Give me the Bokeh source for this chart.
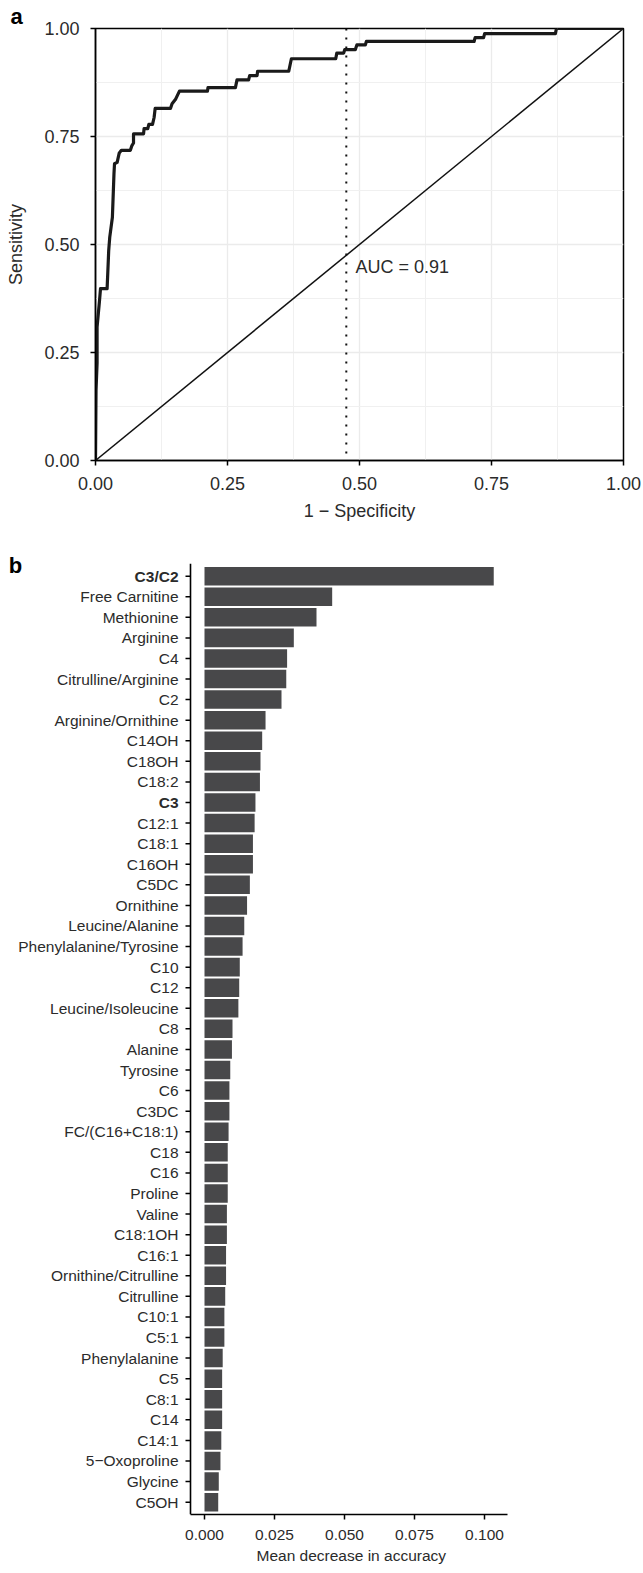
from bokeh.plotting import figure
from bokeh.models import Range1d, FixedTicker, Label, Span, Title
from bokeh.embed import file_html
from bokeh.resources import INLINE
from bokeh.core.properties import value

# ---------------- data: panel a (ROC) ----------------
roc_fpr = [0.0, 0.001, 0.003, 0.003, 0.0076, 0.0095, 0.022, 0.024, 0.025, 0.027,
           0.032, 0.035, 0.036, 0.041, 0.045, 0.049, 0.066, 0.069, 0.072, 0.072,
           0.091, 0.092, 0.099, 0.101, 0.108, 0.111, 0.113, 0.142, 0.145, 0.152,
           0.159, 0.212, 0.213, 0.265, 0.268, 0.290, 0.292, 0.306, 0.307, 0.366,
           0.371, 0.455, 0.457, 0.470, 0.472, 0.492, 0.495, 0.511, 0.513, 0.717,
           0.719, 0.735, 0.737, 0.871, 0.873, 1.0]
roc_tpr = [0.0, 0.162, 0.225, 0.309, 0.370, 0.398, 0.398, 0.456, 0.486, 0.517,
           0.563, 0.664, 0.687, 0.690, 0.712, 0.718, 0.718, 0.729, 0.735, 0.756,
           0.756, 0.768, 0.768, 0.778, 0.778, 0.794, 0.815, 0.815, 0.826, 0.837,
           0.855, 0.855, 0.863, 0.863, 0.881, 0.881, 0.891, 0.891, 0.901, 0.901,
           0.930, 0.930, 0.943, 0.943, 0.951, 0.951, 0.962, 0.962, 0.970, 0.970,
           0.979, 0.979, 0.988, 0.988, 1.0, 1.0]
chance_x = [0.0, 1.0]
chance_y = [0.0, 1.0]
threshold_fpr = 0.475
auc_text = "AUC = 0.91"
roc_ticks = [0.0, 0.25, 0.5, 0.75, 1.0]
roc_minor = [0.125, 0.375, 0.625, 0.875]
roc_tick_labels = ["0.00", "0.25", "0.50", "0.75", "1.00"]

# ---------------- data: panel b (importance) ----------------
features = ["C3/C2", "Free Carnitine", "Methionine", "Arginine", "C4",
            "Citrulline/Arginine", "C2", "Arginine/Ornithine", "C14OH", "C18OH",
            "C18:2", "C3", "C12:1", "C18:1", "C16OH", "C5DC", "Ornithine",
            "Leucine/Alanine", "Phenylalanine/Tyrosine", "C10", "C12",
            "Leucine/Isoleucine", "C8", "Alanine", "Tyrosine", "C6", "C3DC",
            "FC/(C16+C18:1)", "C18", "C16", "Proline", "Valine", "C18:1OH",
            "C16:1", "Ornithine/Citrulline", "Citrulline", "C10:1", "C5:1",
            "Phenylalanine", "C5", "C8:1", "C14", "C14:1", "5\u2212Oxoproline",
            "Glycine", "C5OH"]
importance = [0.1033, 0.0456, 0.0400, 0.0319, 0.0295, 0.0292, 0.0275, 0.0218,
              0.0206, 0.0200, 0.0198, 0.0182, 0.0179, 0.0173, 0.0173, 0.0162,
              0.0152, 0.0142, 0.0136, 0.0126, 0.0124, 0.0121, 0.0100, 0.0098,
              0.0092, 0.0089, 0.0089, 0.0086, 0.0083, 0.0083, 0.0083, 0.0080,
              0.0080, 0.0077, 0.0077, 0.0074, 0.0071, 0.0071, 0.0065, 0.0063,
              0.0063, 0.0063, 0.0060, 0.0057, 0.0051, 0.0049]
bold_features = ["C3/C2", "C3"]
imp_ticks = [0.0, 0.025, 0.05, 0.075, 0.1]
imp_tick_labels = ["0.000", "0.025", "0.050", "0.075", "0.100"]

FONT = "Liberation Sans"
TXT = "#2b2b2b"
W = 643
H1 = 533
H2 = 1573 - H1


def style_axis(ax, size):
    ax.axis_line_color = "black"
    ax.axis_line_width = 1.5
    ax.major_tick_line_color = "black"
    ax.major_tick_line_width = 1.5
    ax.major_tick_out = 5
    ax.major_tick_in = 0
    ax.minor_tick_line_color = None
    ax.major_label_text_font = FONT
    ax.major_label_text_font_size = size
    ax.major_label_text_color = TXT
    ax.axis_label_text_font = FONT
    ax.axis_label_text_font_size = size
    ax.axis_label_text_font_style = "normal"
    ax.axis_label_text_color = TXT


# ---------------- panel a ----------------
p1 = figure(width=W, height=H1, x_range=Range1d(0, 1), y_range=Range1d(0, 1),
            output_backend="svg", toolbar_location=None,
            min_border_left=95, min_border_right=20, min_border_top=28,
            min_border_bottom=H1 - 460)
p1.outline_line_color = "black"
p1.outline_line_width = 1.5
for ax in (p1.xaxis[0], p1.yaxis[0]):
    ax.ticker = FixedTicker(ticks=roc_ticks, minor_ticks=roc_minor)
    ax.major_label_overrides = {t: l for t, l in zip(roc_ticks, roc_tick_labels)}
    style_axis(ax, "18px")
p1.xaxis.axis_label = "1 \u2212 Specificity"
p1.yaxis.axis_label = "Sensitivity"
p1.xaxis.major_label_standoff = 11
p1.yaxis.major_label_standoff = 11
p1.xaxis.axis_label_standoff = 8
p1.yaxis.axis_label_standoff = 15
for g in (p1.xgrid[0], p1.ygrid[0]):
    g.grid_line_color = "#ebebeb"
    g.grid_line_width = 1.3
    g.minor_grid_line_color = "#f0f0f0"
    g.minor_grid_line_width = 1.0

p1.title.text = "a"
p1.title.align = "left"
p1.title.offset = -85
p1.title.standoff = 0
p1.title.text_font = FONT
p1.title.text_font_size = "22px"
p1.title.text_font_style = "bold"
p1.title.text_color = "black"

p1.line(chance_x, chance_y, line_color="#111111", line_width=1.5)
p1.add_layout(Span(location=threshold_fpr, dimension="height", line_color="#111111",
                   line_width=2, line_dash="2 7"))
p1.line(roc_fpr, roc_tpr, line_color="#1a1a1a", line_width=3.2, line_join="round")
p1.add_layout(Label(x=0.4924, y=0.4468, text=auc_text, text_font=FONT,
                    text_font_size="18px", text_color=TXT, text_baseline="middle",
                    text_align="left"))

# ---------------- panel b ----------------
n = len(features)
ypos = [n - i for i in range(n)]
y_lo, y_hi = 0.4, n + 0.6          # extent of the category axis
unit_px = 20.578                   # pixels per bar slot
px_per_x = 2800.0                  # pixels per unit of importance
axis_x = -0.005                    # where the category axis sits
BT, BB, BR = 12, 59, 136
x_start = -204.0 / px_per_x
x_end = x_start + (W - BR) / px_per_x
y_end = y_lo + (H2 - BT - BB) / unit_px
tick_len = 5.0 / px_per_x
half_lw = 0.8 / px_per_x           # half the axis line width, in data units
tick_h = 1.5 / unit_px             # tick thickness, in data units

p2 = figure(width=W, height=H2, x_range=Range1d(x_start, x_end),
            y_range=Range1d(y_lo, y_end), y_axis_location=None,
            output_backend="svg", toolbar_location=None,
            min_border_left=0, min_border_right=BR, min_border_top=BT,
            min_border_bottom=BB)
p2.outline_line_color = None
p2.grid.visible = False

p2.hbar(y=ypos, left=0, right=importance, height=0.9, fill_color="#48484a",
        line_color=None)

# category axis: line + ticks drawn as filled rectangles
p2.quad(left=[axis_x - half_lw], right=[axis_x + half_lw], bottom=[y_lo],
        top=[y_hi], fill_color="black", line_color=None)
p2.hbar(y=ypos, left=axis_x - tick_len, right=axis_x, height=tick_h,
        fill_color="black", line_color=None)

styles = ["bold" if f in bold_features else "normal" for f in features]
p2.text(x=[axis_x] * n, y=ypos, text=features, x_offset=-12,
        text_font=value(FONT), text_font_size="15.5px", text_font_style=styles,
        text_color=TXT, text_align="right", text_baseline="middle")
p2.text(x=[x_start + 15.0 / px_per_x], y=[n + 0.52], text=["b"],
        text_font=value(FONT), text_font_size="22px", text_font_style="bold",
        text_color="black", text_align="center", text_baseline="middle")

xa = p2.xaxis[0]
xa.ticker = FixedTicker(ticks=imp_ticks)
xa.major_label_overrides = {t: l for t, l in zip(imp_ticks, imp_tick_labels)}
xa.bounds = (axis_x, x_end)
style_axis(xa, "15.5px")
xa.major_label_standoff = 10

p2.add_layout(Title(text="Mean decrease in accuracy", align="left", offset=256,
                    standoff=5, text_font=FONT, text_font_size="15.5px",
                    text_font_style="normal", text_color=TXT), "below")

open("out.html", "w").write(file_html([p1, p2], INLINE))
